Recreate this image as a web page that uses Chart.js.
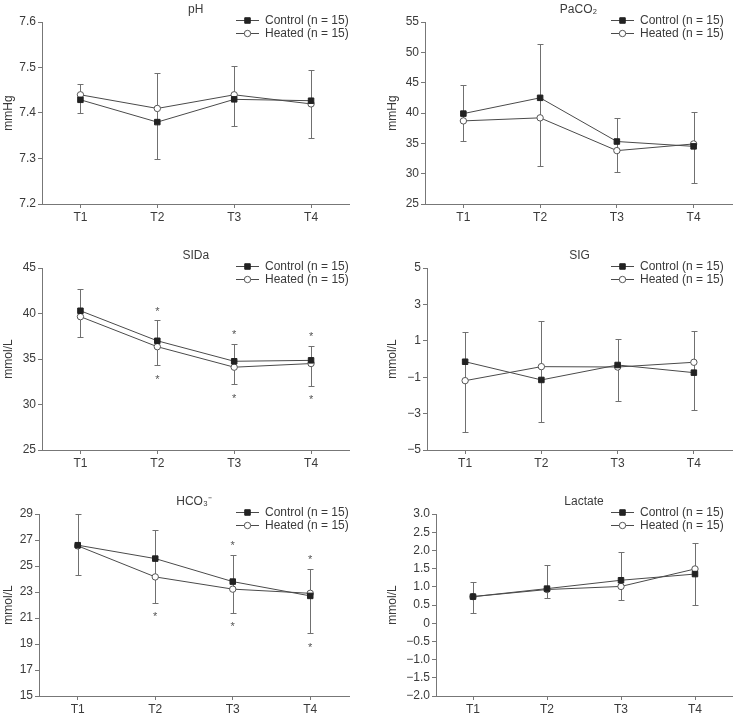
<!DOCTYPE html>
<html lang="en">
<head>
    <meta charset="utf-8"/>
    <title>Blood gas panels</title>
    <script src="https://cdn.jsdelivr.net/npm/chart.js"></script>
    <style>
        body { margin: 0; background: #fff; }
        #wrap { position: relative; width: 737px; height: 720px; }
        #wrap canvas { position: absolute; }
    </style>
</head>
<body>
<div id="wrap">
    <canvas id="c1" width="368" height="240" style="left:0;top:0"></canvas>
    <canvas id="c2" width="369" height="240" style="left:368px;top:0"></canvas>
    <canvas id="c3" width="368" height="240" style="left:0;top:240px"></canvas>
    <canvas id="c4" width="369" height="240" style="left:368px;top:240px"></canvas>
    <canvas id="c5" width="368" height="240" style="left:0;top:480px"></canvas>
    <canvas id="c6" width="369" height="240" style="left:368px;top:480px"></canvas>
</div>
<script>
// time points + series names
const timePoints = ['T1', 'T2', 'T3', 'T4'];
const seriesNames = ['Control (n = 15)', 'Heated (n = 15)'];

// pH
const phControl = [7.429, 7.380, 7.430, 7.427];
const phHeated = [7.440, 7.410, 7.440, 7.420];
const phBarHigh = [7.463, 7.489, 7.504, 7.494];
const phBarLow = [7.400, 7.300, 7.372, 7.345];
const phTicks = [7.2, 7.3, 7.4, 7.5, 7.6];

// PaCO2
const pacoControl = [39.9, 42.5, 35.3, 34.5];
const pacoHeated = [38.7, 39.2, 33.8, 34.9];
const pacoBarHigh = [44.6, 51.3, 39.2, 40.2];
const pacoBarLow = [35.4, 31.2, 30.3, 28.4];
const pacoTicks = [25, 30, 35, 40, 45, 50, 55];

// SIDa
const sidaControl = [40.3, 37.0, 34.75, 34.85];
const sidaHeated = [39.65, 36.35, 34.1, 34.5];
const sidaBarHigh = [42.7, 39.25, 36.7, 36.45];
const sidaBarLow = [37.4, 34.3, 32.25, 32.05];
const sidaStarHigh = [false, true, true, true];
const sidaStarLow = [false, true, true, true];
const sidaTicks = [25, 30, 35, 40, 45];

// SIG
const sigControl = [-0.15, -1.15, -0.33, -0.75];
const sigHeated = [-1.19, -0.42, -0.44, -0.18];
const sigBarHigh = [1.5, 2.07, 1.08, 1.52];
const sigBarLow = [-4.0, -3.48, -2.31, -2.78];
const sigTicks = [-5, -3, -1, 1, 3, 5];

// HCO3-
const hcoControl = [26.6, 25.57, 23.8, 22.7];
const hcoHeated = [26.55, 24.16, 23.22, 22.9];
const hcoBarHigh = [29.0, 27.77, 25.85, 24.8];
const hcoBarLow = [24.27, 22.19, 21.4, 19.81];
const hcoStarHigh = [false, false, true, true];
const hcoStarLow = [false, true, true, true];
const hcoTicks = [15, 17, 19, 21, 23, 25, 27, 29];

// Lactate
const lacControl = [0.73, 0.95, 1.18, 1.35];
const lacHeated = [0.73, 0.925, 1.01, 1.49];
const lacBarHigh = [1.14, 1.59, 1.96, 2.19];
const lacBarLow = [0.29, 0.68, 0.65, 0.49];
const lacTicks = [-2.0, -1.5, -1.0, -0.5, 0, 0.5, 1.0, 1.5, 2.0, 2.5, 3.0];

const FONT = '"Liberation Sans", Arial, sans-serif';
const TEXT = '#3a3a3a';
const AXIS = '#777';

function minus(s) { return s.replace('-', '\u2212'); }

// error bars, stars, title and the little legend
const panelDecor = {
    id: 'panelDecor',
    beforeDatasetsDraw(chart, args, o) {
        const {ctx} = chart;
        const x = chart.scales.x, y = chart.scales.y;
        ctx.save();
        ctx.strokeStyle = '#707070';
        ctx.lineWidth = 1;
        o.high.forEach((hi, i) => {
            const px = Math.round(x.getPixelForValue(i)) + 0.5;
            const yh = Math.round(y.getPixelForValue(hi)) + 0.5;
            const yl = Math.round(y.getPixelForValue(o.low[i])) + 0.5;
            ctx.beginPath();
            ctx.moveTo(px, yh); ctx.lineTo(px, yl);
            ctx.moveTo(px - 3, yh); ctx.lineTo(px + 3, yh);
            ctx.moveTo(px - 3, yl); ctx.lineTo(px + 3, yl);
            ctx.stroke();
        });
        ctx.fillStyle = '#555';
        ctx.font = '11px ' + FONT;
        ctx.textAlign = 'center';
        ctx.textBaseline = 'alphabetic';
        (o.starHigh || []).forEach((s, i) => {
            if (!s) return;
            ctx.fillText('*', x.getPixelForValue(i), y.getPixelForValue(o.high[i]) - 12 + 6.5);
        });
        (o.starLow || []).forEach((s, i) => {
            if (!s) return;
            ctx.fillText('*', x.getPixelForValue(i), y.getPixelForValue(o.low[i]) + 11 + 6.5);
        });
        ctx.restore();
    },
    afterDraw(chart, args, o) {
        const {ctx, chartArea} = chart;
        ctx.save();
        ctx.fillStyle = TEXT;
        ctx.font = '12px ' + FONT;
        ctx.textAlign = 'center';
        ctx.textBaseline = 'middle';
        ctx.fillText(o.title, (chartArea.left + chartArea.right) / 2, chartArea.top - 12);

        // legend
        chart.data.datasets.forEach((ds, i) => {
            const ly = Math.round(chartArea.top - 2.5 + i * 13.5) + 0.5;
            const lx = o.legendX;
            ctx.strokeStyle = '#4a4a4a';
            ctx.lineWidth = 1;
            ctx.beginPath();
            ctx.moveTo(lx, ly); ctx.lineTo(lx + 23, ly);
            ctx.stroke();
            ctx.fillStyle = ds.pointBackgroundColor;
            ctx.strokeStyle = ds.pointBorderColor;
            Chart.helpers.drawPoint(ctx, {
                pointStyle: ds.pointStyle, radius: ds.pointRadius,
                rotation: 0, borderWidth: 1
            }, lx + 11.5, ly);
            ctx.fillStyle = TEXT;
            ctx.textAlign = 'left';
            ctx.fillText(ds.label, lx + 29, ly);
        });
        ctx.restore();
    }
};

function makePanel(id, p) {
    new Chart(document.getElementById(id), {
        type: 'line',
        data: {
            labels: timePoints,
            datasets: [{
                label: seriesNames[0],
                data: p.control,
                borderColor: '#4a4a4a',
                borderWidth: 1,
                pointStyle: 'rect',
                pointRadius: 3.9,
                pointBackgroundColor: '#222',
                pointBorderColor: '#222',
                pointBorderWidth: 1,
                tension: 0
            }, {
                label: seriesNames[1],
                data: p.heated,
                borderColor: '#4a4a4a',
                borderWidth: 1,
                pointStyle: 'circle',
                pointRadius: 3.2,
                pointBackgroundColor: '#fff',
                pointBorderColor: '#555',
                pointBorderWidth: 1,
                tension: 0
            }]
        },
        options: {
            responsive: false,
            animation: false,
            devicePixelRatio: 1,
            layout: { padding: { top: p.top, right: p.right, left: 0, bottom: 0 } },
            plugins: {
                legend: { display: false },
                tooltip: { enabled: false },
                panelDecor: {
                    title: p.title, legendX: p.legendX,
                    high: p.high, low: p.low,
                    starHigh: p.starHigh, starLow: p.starLow
                }
            },
            scales: {
                x: {
                    offset: true,
                    grid: { drawOnChartArea: false, drawTicks: true, tickLength: 4, color: AXIS },
                    border: { color: AXIS },
                    ticks: { color: TEXT, font: { family: FONT, size: 12 }, padding: 2, maxRotation: 0 },
                    afterFit(s) { s.height = 240 - p.bottom; }
                },
                y: {
                    min: p.ticks[0],
                    max: p.ticks[p.ticks.length - 1],
                    afterBuildTicks(s) { s.ticks = p.ticks.map(v => ({ value: v })); },
                    grid: { drawOnChartArea: false, drawTicks: true, tickLength: 4, color: AXIS },
                    border: { color: AXIS },
                    ticks: { color: TEXT, font: { family: FONT, size: 12 }, padding: 2, callback: p.fmt },
                    title: {
                        display: true, text: p.unit, color: TEXT,
                        font: { family: FONT, size: 12 },
                        padding: { top: p.titlePad, bottom: 0 }
                    },
                    afterFit(s) { s.width = p.left; }
                }
            }
        },
        plugins: [panelDecor]
    });
}

makePanel('c1', {
    title: 'pH', unit: 'mmHg', control: phControl, heated: phHeated,
    high: phBarHigh, low: phBarLow, ticks: phTicks, fmt: v => v.toFixed(1),
    left: 42, right: 18.5, top: 22, bottom: 204, legendX: 236, titlePad: 1
});
makePanel('c2', {
    title: 'PaCO\u2082', unit: 'mmHg', control: pacoControl, heated: pacoHeated,
    high: pacoBarHigh, low: pacoBarLow, ticks: pacoTicks, fmt: v => String(v),
    left: 57, right: 3, top: 22, bottom: 204, legendX: 243, titlePad: 17
});
makePanel('c3', {
    title: 'SIDa', unit: 'mmol/L', control: sidaControl, heated: sidaHeated,
    high: sidaBarHigh, low: sidaBarLow, ticks: sidaTicks, fmt: v => String(v),
    starHigh: sidaStarHigh, starLow: sidaStarLow,
    left: 42, right: 18.5, top: 28, bottom: 210, legendX: 236, titlePad: 1
});
makePanel('c4', {
    title: 'SIG', unit: 'mmol/L', control: sigControl, heated: sigHeated,
    high: sigBarHigh, low: sigBarLow, ticks: sigTicks, fmt: v => minus(String(v)),
    left: 59, right: 3, top: 28, bottom: 210, legendX: 243, titlePad: 17
});
makePanel('c5', {
    title: 'HCO\u2083\u207B', unit: 'mmol/L', control: hcoControl, heated: hcoHeated,
    high: hcoBarHigh, low: hcoBarLow, ticks: hcoTicks, fmt: v => String(v),
    starHigh: hcoStarHigh, starLow: hcoStarLow,
    left: 39, right: 19, top: 34, bottom: 216, legendX: 236, titlePad: 1
});
makePanel('c6', {
    title: 'Lactate', unit: 'mmol/L', control: lacControl, heated: lacHeated,
    high: lacBarHigh, low: lacBarLow, ticks: lacTicks,
    fmt: v => v === 0 ? '0' : minus(v.toFixed(1)),
    left: 68, right: 3, top: 34, bottom: 216, legendX: 243, titlePad: 17
});
</script>
</body>
</html>
